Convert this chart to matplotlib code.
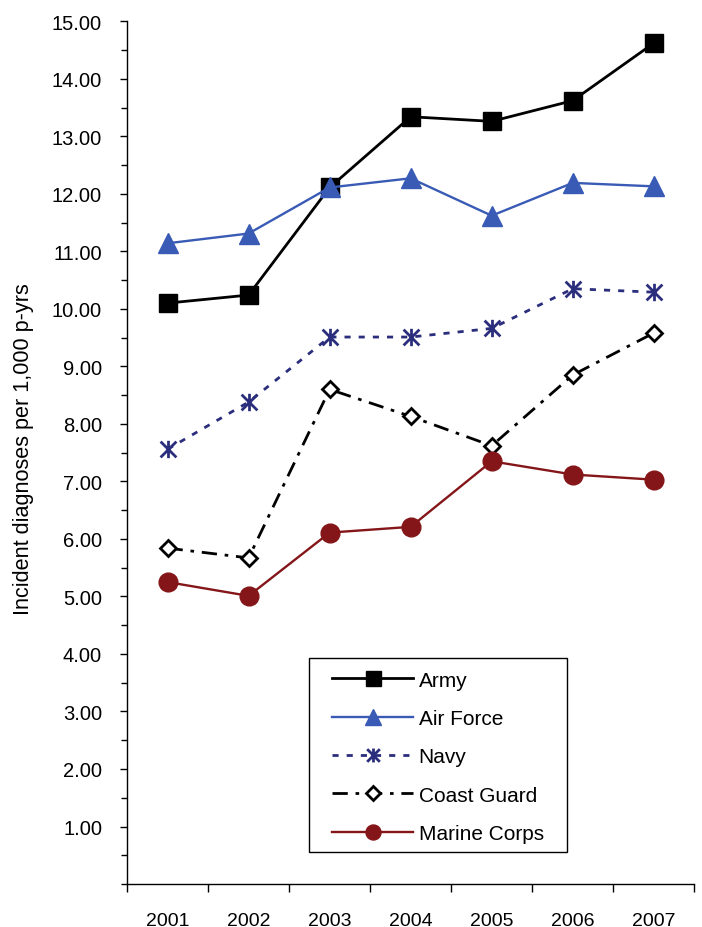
import matplotlib
matplotlib.use("Agg")
import matplotlib.pyplot as plt
from matplotlib.path import Path
from matplotlib.patches import Rectangle
from matplotlib.ticker import MultipleLocator, FormatStrFormatter

plt.rcParams['font.family'] = ['Liberation Sans', 'DejaVu Sans']

years = ["2001", "2002", "2003", "2004", "2005", "2006", "2007"]
army = [10.10, 10.24, 12.11, 13.34, 13.26, 13.62, 14.62]
air_force = [11.14, 11.31, 12.11, 12.27, 11.62, 12.19, 12.13]
navy = [7.56, 8.38, 9.51, 9.51, 9.66, 10.35, 10.29]
coast_guard = [5.84, 5.67, 8.60, 8.13, 7.62, 8.85, 9.58]
marine_corps = [5.25, 5.01, 6.11, 6.21, 7.35, 7.12, 7.03]

# Excel-style star marker: X with vertical bar
star = Path([(-1, -1), (1, 1), (-1, 1), (1, -1), (0, -1.1), (0, 1.1)],
            [Path.MOVETO, Path.LINETO, Path.MOVETO, Path.LINETO, Path.MOVETO, Path.LINETO])

fig = plt.figure(figsize=(7.02, 9.28), dpi=100)
ax = fig.add_axes([0.181, 0.0463, 0.808, 0.9297])

x = list(range(len(years)))

ax.plot(x, army, color='black', lw=2.0, marker='s', ms=13.5, mfc='black', mec='black', label='Army', zorder=3)
ax.plot(x, air_force, color='#3A5BB5', lw=1.7, marker='^', ms=14.5, mfc='#3A5BB5', mec='#3A5BB5', label='Air Force', zorder=3)
ax.plot(x, navy, color='#2B2E7C', lw=2.0, ls=(0, (2.2, 2.9)), marker=star, ms=12.5, mfc='none', mec='#2B2E7C', mew=2.0, label='Navy', zorder=3)
ax.plot(x, coast_guard, color='black', lw=2.0, ls=(0, (5.5, 2.8, 1.3, 2.8)), marker='D', ms=8.3, mfc='white', mec='black', mew=2.0, label='Coast Guard', zorder=3)
ax.plot(x, marine_corps, color='#841619', lw=1.7, marker='o', ms=13.5, mfc='#841619', mec='#841619', label='Marine Corps', zorder=3)

ax.set_xlim(-0.5, len(years) - 0.5)
ax.set_ylim(0, 15)
ax.set_xticks([i - 0.5 for i in range(len(years) + 1)])
ax.set_xticklabels([])
ax.set_xticks(x, minor=True)
ax.set_xticklabels(years, minor=True)
ax.tick_params(axis='x', which='major', direction='out', length=6, width=1, color='black')
ax.tick_params(axis='x', which='minor', length=0, labelsize=14, pad=20)

ax.set_yticks(list(range(1, 16)))
ax.yaxis.set_minor_locator(MultipleLocator(0.5))
ax.yaxis.set_major_formatter(FormatStrFormatter('%.2f'))
ax.tick_params(axis='y', which='major', direction='out', length=5, width=1, labelsize=14.5, pad=13)
ax.tick_params(axis='y', which='minor', direction='out', length=4, width=1)

for s in ['top', 'right']:
    ax.spines[s].set_visible(False)
for s in ['left', 'bottom']:
    ax.spines[s].set_linewidth(1)
    ax.spines[s].set_color('black')

ax.set_ylabel('Incident diagnoses per 1,000 p-yrs', fontsize=15.6)
ax.yaxis.set_label_coords(-0.164, 0.505)

# legend frame drawn as a rectangle in axes coordinates
ax.add_patch(Rectangle((0.321, 0.0371), 0.455, 0.2248, transform=ax.transAxes,
                       fill=False, edgecolor='black', lw=1, clip_on=False, zorder=4))
leg = ax.legend(loc='upper left', bbox_to_anchor=(0.3616, 0.2475), fontsize=15,
                frameon=False, handlelength=3.9, markerscale=0.8,
                labelspacing=0.93, borderpad=0, handletextpad=0.25, borderaxespad=0)

fig.savefig('out.png', dpi=100)
